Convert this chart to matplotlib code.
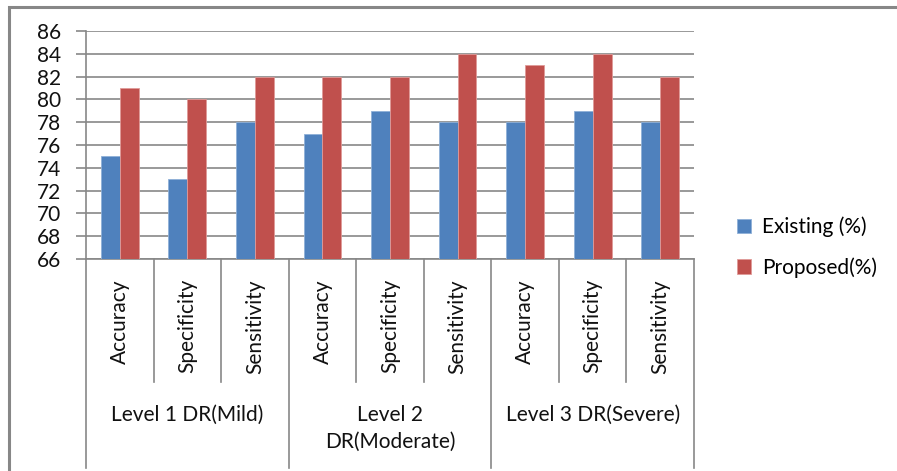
import matplotlib
matplotlib.use("Agg")
import matplotlib.pyplot as plt
import matplotlib.transforms as mtransforms
from matplotlib.patches import Rectangle
import numpy as np

metrics = ["Accuracy", "Specificity", "Sensitivity"] * 3
groups = ["Level 1 DR(Mild)", "Level 2\nDR(Moderate)", "Level 3 DR(Severe)"]
existing = [75, 73, 78, 77, 79, 78, 78, 79, 78]
proposed = [81, 80, 82, 82, 82, 84, 83, 84, 82]
series_names = ["Existing (%)", "Proposed(%)"]
yticks = list(range(66, 87, 2))

plt.rcParams['font.family'] = ['Lato', 'DejaVu Sans']
FS = 15

W, H = 897, 471
fig = plt.figure(figsize=(W / 100, H / 100), dpi=100)

def fx(px):
    return px / W

def fy(py):
    return 1 - py / H

ax_l, ax_r, ax_t, ax_b = 86, 694, 31, 259
ax = fig.add_axes([fx(ax_l), fy(ax_b), fx(ax_r - ax_l), fy(ax_t) - fy(ax_b)])

grid_c = "#878787"
blue = "#4F81BD"
red = "#C0504D"

x = np.arange(len(metrics))
bw = 0.28
b1 = ax.bar(x - bw / 2, [v - 66 for v in existing], bw, bottom=66, color=blue,
            edgecolor="#8fb0d8", linewidth=0.6, label=series_names[0], zorder=3)
b2 = ax.bar(x + bw / 2, [v - 66 for v in proposed], bw, bottom=66, color=red,
            edgecolor="#e09a98", linewidth=0.6, label=series_names[1], zorder=3)

ax.set_xlim(-0.5, len(metrics) - 0.5)
ax.set_ylim(66, 86)
ax.set_yticks(yticks)
ax.set_yticklabels([str(t) for t in yticks], fontsize=FS, color="#111111")
ax.yaxis.grid(True, color=grid_c, linewidth=1.2, zorder=0)
ax.tick_params(axis='y', length=7, width=1.2, color=grid_c, pad=11)
ax.set_xticks([])
for s in ["top", "right"]:
    ax.spines[s].set_visible(False)
for s in ["left", "bottom"]:
    ax.spines[s].set_color(grid_c)
    ax.spines[s].set_linewidth(1.2)

trans = mtransforms.blended_transform_factory(ax.transData, fig.transFigure)
# separators
for i in range(len(metrics) + 1):
    xb = i - 0.5
    bottom = fy(468) if i % 3 == 0 else fy(382)
    ax.plot([xb, xb], [fy(ax_b), bottom], transform=trans, color=grid_c,
            linewidth=1.2, clip_on=False)

# category labels
for i, m in enumerate(metrics):
    ax.text(i, fy(279), m, transform=trans, rotation=90, ha="center", va="top",
            fontsize=FS, color="#111111")

# group labels
for g, name in enumerate(groups):
    ax.text(3 * g + 1, fy(405), name, transform=trans, ha="center", va="top",
            fontsize=FS, color="#111111", linespacing=1.4)

# legend
leg = fig.legend(handles=[b1, b2], labels=series_names, loc="upper left",
                 bbox_to_anchor=(fx(718), fy(198)), frameon=False, fontsize=FS,
                 handlelength=0.7, handleheight=0.7, handletextpad=0.5,
                 labelspacing=0.95)

# outer border
fig.patches.append(Rectangle((fx(9), fy(480)), 1.1, fy(7) - fy(480),
                             transform=fig.transFigure, fill=False,
                             edgecolor=grid_c, linewidth=2.2, zorder=0))

fig.savefig("out.png", dpi=100)
